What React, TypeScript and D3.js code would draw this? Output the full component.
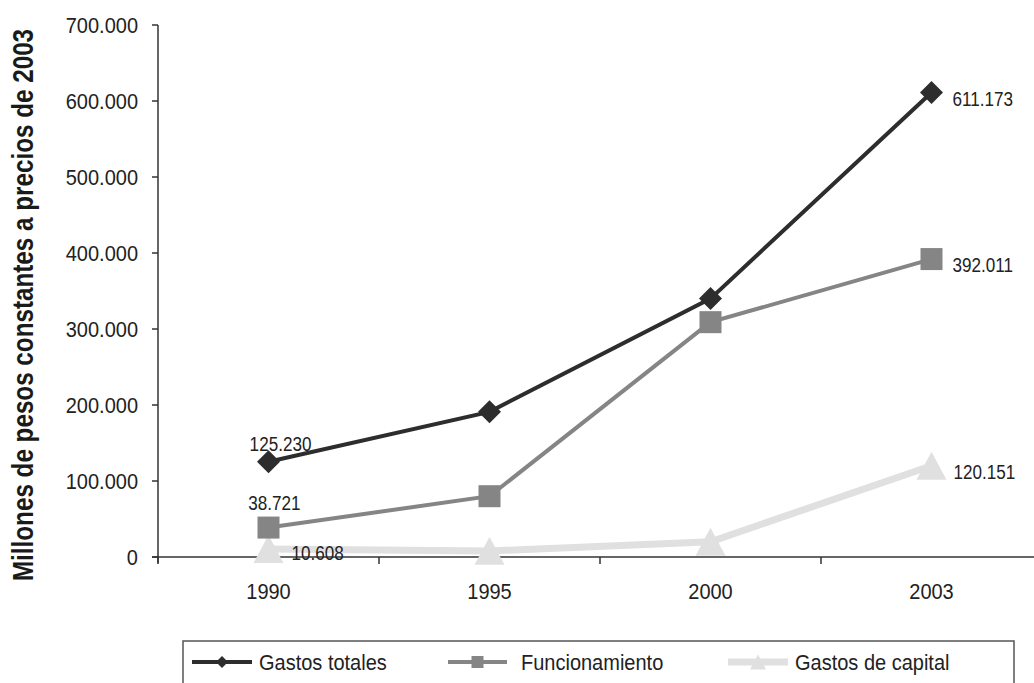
import React from "react";
import * as d3 from "d3";

const categories = ["1990", "1995", "2000", "2003"];
const gastosTotales = [125230, 191000, 340000, 611173];
const funcionamiento = [38721, 80000, 309000, 392011];
const gastosCapital = [10608, 8000, 20000, 120151];
const yTicks = [0, 100000, 200000, 300000, 400000, 500000, 600000, 700000];
const seriesNames = ["Gastos totales", "Funcionamiento", "Gastos de capital"];
const yTitle = "Millones de pesos constantes a precios de 2003";

const W = 1034;
const H = 683;
const FONT = "'Liberation Sans', Arial, sans-serif";

const locale = d3.formatLocale({ decimal: ",", thousands: ".", grouping: [3], currency: ["$", ""] });
const fmt = locale.format(",d");

function T(props: {
  x: number;
  y: number;
  size: number;
  anchor?: string;
  sy?: number;
  sx?: number;
  children: React.ReactNode;
}) {
  const { x, y, size, anchor = "start", sy = 1.1, sx = 1, children } = props;
  return (
    <text
      transform={`translate(${x},${y}) scale(${sx},${sy})`}
      textAnchor={anchor as any}
      dominantBaseline="central"
      fontSize={size}
      fill="#222"
    >
      {children}
    </text>
  );
}

function marker(kind: string, cx: number, cy: number, size: number, color: string, key?: string) {
  if (kind === "diamond") {
    const r = size / 2;
    const p = `M${cx},${cy - r}L${cx + r},${cy}L${cx},${cy + r}L${cx - r},${cy}Z`;
    return <path key={key} d={p} fill={color} />;
  }
  if (kind === "square") {
    const r = size / 2;
    return <rect key={key} x={cx - r} y={cy - r} width={size} height={size} fill={color} />;
  }
  const w = size;
  const h = size * 0.93;
  const p = `M${cx},${cy - h / 2}L${cx + w / 2},${cy + h / 2}L${cx - w / 2},${cy + h / 2}Z`;
  return <path key={key} d={p} fill={color} />;
}

export default function App() {
  const x = d3.scaleBand().domain(categories).range([158, 158 + 4 * 221]).padding(0);
  const y = d3.scaleLinear().domain([0, 700000]).range([557, 25]);
  const cx = (c: string) => (x(c) as number) + x.bandwidth() / 2;

  const series = [
    { name: seriesNames[0], values: gastosTotales, color: "#2d2d2d", width: 4, kind: "diamond", size: 23 },
    { name: seriesNames[1], values: funcionamiento, color: "#858585", width: 4, kind: "square", size: 22 },
    { name: seriesNames[2], values: gastosCapital, color: "#e0e0e0", width: 7, kind: "triangle", size: 30 },
  ];

  const line = d3
    .line<number>()
    .x((_, i) => cx(categories[i]))
    .y((v) => y(v));

  const bandTicks = [...categories.map((c) => x(c) as number), (x(categories[3]) as number) + x.bandwidth()];

  // data labels: [seriesIndex, catIndex, dx, dy, anchor]
  const labels: [number, number, number, number, string][] = [
    [0, 0, 12, -18, "middle"],
    [1, 0, 6, -25, "middle"],
    [2, 0, 23, 4, "start"],
    [0, 3, 21, 6, "start"],
    [1, 3, 21, 6, "start"],
    [2, 3, 22, 6, "start"],
  ];

  const legendItems = [
    { x0: 192, x1: 252, tx: 259 },
    { x0: 448, x1: 507, tx: 521 },
    { x0: 728, x1: 788, tx: 795 },
  ];
  const legendY = 662;

  return (
    <svg width={W} height={H} style={{ position: "absolute", left: 0, top: 0, background: "#fff" }} fontFamily={FONT}>
      <rect x={0} y={0} width={W} height={H} fill="#fff" />
      {/* Y title */}
      <text
        transform={`translate(23,305) rotate(-90) scale(1.01,1.2)`}
        textAnchor="middle"
        dominantBaseline="central"
        fontSize={24}
        fontWeight="bold"
        fill="#1a1a1a"
      >
        {yTitle}
      </text>
      {/* Y axis */}
      <line x1={158} x2={158} y1={y(700000)} y2={563} stroke="#333" strokeWidth={1.5} />
      {yTicks.map((t) => (
        <g key={t}>
          <line x1={152} x2={158} y1={y(t)} y2={y(t)} stroke="#333" strokeWidth={1.5} />
          <T x={138} y={y(t)} anchor="end" size={20}>
            {fmt(t)}
          </T>
        </g>
      ))}
      {/* X axis */}
      <line x1={152} x2={W} y1={557} y2={557} stroke="#333" strokeWidth={1.5} />
      {bandTicks.map((t, i) => (
        <line key={i} x1={t} x2={t} y1={557} y2={564} stroke="#333" strokeWidth={1.5} />
      ))}
      {categories.map((c) => (
        <T key={c} x={cx(c)} y={591} anchor="middle" size={20}>
          {c}
        </T>
      ))}
      {/* Series, drawn light first */}
      {[2, 1, 0].map((si) => {
        const s = series[si];
        return (
          <g key={s.name}>
            <path d={line(s.values) as string} fill="none" stroke={s.color} strokeWidth={s.width} />
            {s.values.map((v, i) => marker(s.kind, cx(categories[i]), y(v), s.size, s.color, `${si}-${i}`))}
          </g>
        );
      })}
      {/* Data labels */}
      {labels.map(([si, ci, dx, dy, anchor], k) => {
        const v = series[si].values[ci];
        return (
          <T key={k} x={cx(categories[ci]) + dx} y={y(v) + dy} anchor={anchor} size={18} sy={1.15} sx={0.95}>
            {fmt(v)}
          </T>
        );
      })}
      {/* Legend */}
      <rect x={183} y={641} width={831} height={70} fill="none" stroke="#555" strokeWidth={1.5} />
      {series.map((s, i) => {
        const it = legendItems[i];
        const mx = (it.x0 + it.x1) / 2;
        return (
          <g key={s.name}>
            <line x1={it.x0} x2={it.x1} y1={legendY} y2={legendY} stroke={s.color} strokeWidth={s.width} />
            {marker(s.kind, mx, legendY, s.kind === "triangle" ? 16 : 12, s.color)}
            <T x={it.tx} y={legendY} size={20}>
              {s.name}
            </T>
          </g>
        );
      })}
    </svg>
  );
}
